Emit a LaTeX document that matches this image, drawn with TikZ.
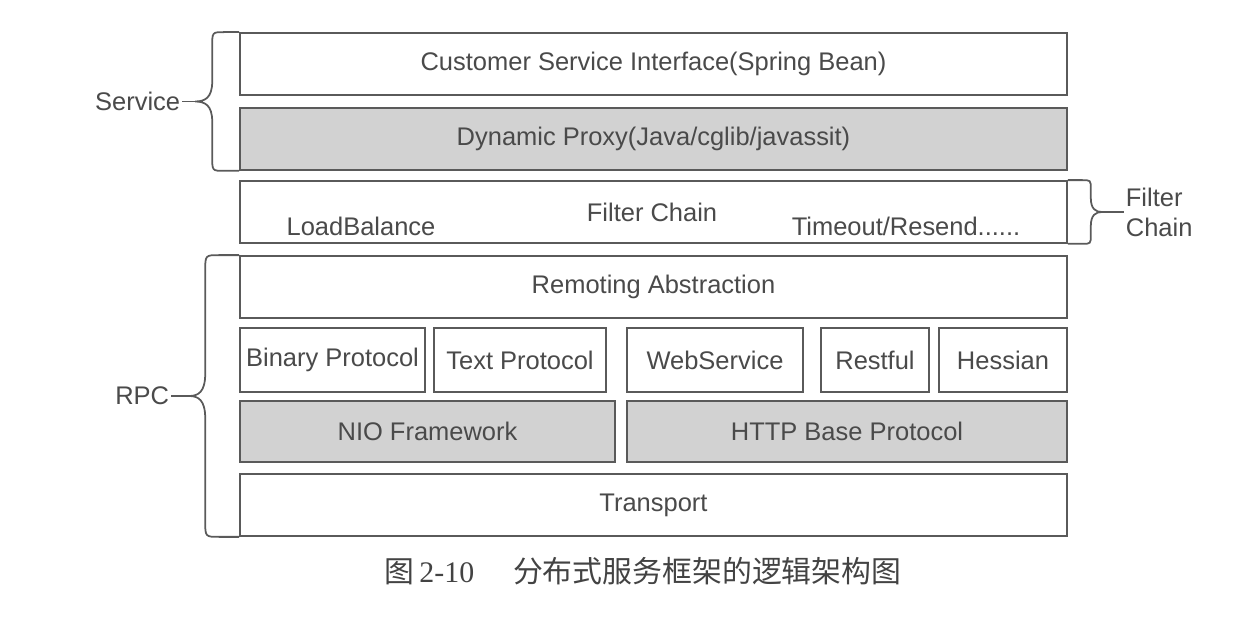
\documentclass[tikz,border=0pt]{standalone}
\usepackage{fontspec}
\setmainfont{Liberation Sans}
\newfontfamily\cjkfont{Noto Sans CJK SC}
\newfontfamily\capnumfont{Liberation Serif}
\usetikzlibrary{positioning,calc}
\definecolor{linegray}{HTML}{5A5A5A}
\definecolor{textgray}{HTML}{4A4A4A}
\definecolor{boxgray}{HTML}{D2D2D2}
\newcommand\lyrfont{\fontsize{14.5pt}{17pt}\selectfont}

\begin{document}
\begin{tikzpicture}[
    x=0.02cm, y=-0.02cm,
    layer/.style={draw=linegray, line width=1pt, fill=white, minimum height=1.24cm, inner sep=0pt, font=\lyrfont, text=textgray},
    dark/.style={layer, fill=boxgray},
    lbl/.style={font=\lyrfont, text=textgray, inner sep=1pt},
    brc/.style={draw=linegray, line width=1pt}
]
\useasboundingbox (0,0) rectangle (1257,624);

% service layers
\node[layer, minimum width=16.54cm] (csi) at (653.5,64) {Customer Service Interface(Spring Bean)};
\node[dark, minimum width=16.54cm] (proxy) at (653.5,139) {Dynamic Proxy(Java/cglib/javassit)};

% filter chain
\node[layer, minimum width=16.54cm] (filter) at (653.5,212) {};
\node[lbl] (fc) at (652,212) {Filter Chain};
\node[lbl] (lb) at (361,226) {LoadBalance};
\node[lbl] (tr) at (906,226) {Timeout/Resend......};

% rpc layers
\node[layer, minimum width=16.54cm] (remote) at (653.5,287) {Remoting Abstraction};
\node[layer, minimum width=3.70cm, minimum height=1.28cm] (bin) at (332.5,360) {Binary Protocol};
\node[layer, minimum width=3.44cm, minimum height=1.28cm] (txt) at (520,360) {Text Protocol};
\node[layer, minimum width=3.52cm, minimum height=1.28cm] (ws) at (715,360) {WebService};
\node[layer, minimum width=2.16cm, minimum height=1.28cm] (rest) at (875,360) {Restful};
\node[layer, minimum width=2.56cm, minimum height=1.28cm] (hes) at (1003,360) {Hessian};
\node[dark, minimum width=7.5cm, minimum height=1.22cm] (nio) at (427.5,431.5) {NIO Framework};
\node[dark, minimum width=8.8cm, minimum height=1.22cm] (http) at (847,431.5) {HTTP Base Protocol};
\node[layer, minimum width=16.54cm] (trans) at (653.5,505) {Transport};

% braces
\coordinate (svcmid) at ($(csi.north west)!0.5!(proxy.south west)$);
\coordinate (svctip) at ($(svcmid)+(-44,0)$);
\draw[brc] (csi.north west) -- ++(-15,0) .. controls ++(-12,0) .. ++(-12,14)
    -- ($(svcmid)+(-27,-20)$)
    .. controls ($(svcmid)+(-27,-4)$) and ($(svcmid)+(-34,0)$) .. (svctip)
    .. controls ($(svcmid)+(-34,0)$) and ($(svcmid)+(-27,4)$) .. ($(svcmid)+(-27,20)$)
    -- ($(proxy.south west)+(-27,-14)$) .. controls ($(proxy.south west)+(-27,0)$) .. ($(proxy.south west)+(-15,0)$)
    -- (proxy.south west);
\node[lbl, left=0.26cm of svctip] (svc) {Service};
\draw[brc] (svctip) -- (svc);

\coordinate (rpcmid) at ($(remote.north west)!0.5!(trans.south west)$);
\coordinate (rpctip) at ($(rpcmid)+(-50,0)$);
\draw[brc] (remote.north west) -- ++(-20,0) .. controls ++(-14,0) .. ++(-14,16)
    -- ($(rpcmid)+(-34,-22)$)
    .. controls ($(rpcmid)+(-34,-4)$) and ($(rpcmid)+(-41,0)$) .. (rpctip)
    .. controls ($(rpcmid)+(-41,0)$) and ($(rpcmid)+(-34,4)$) .. ($(rpcmid)+(-34,22)$)
    -- ($(trans.south west)+(-34,-16)$) .. controls ($(trans.south west)+(-34,0)$) .. ($(trans.south west)+(-20,0)$)
    -- (trans.south west);
\node[lbl, left=0.36cm of rpctip] (rpc) {RPC};
\draw[brc] (rpctip) -- (rpc);

\coordinate (fcmid) at ($(filter.north east)!0.5!(filter.south east)$);
\coordinate (fctip) at ($(fcmid)+(34,0)$);
\draw[brc] (filter.north east) -- ++(14,0) .. controls ++(9,0) .. ++(9,9)
    -- ($(fcmid)+(23,-14)$)
    .. controls ($(fcmid)+(23,-3)$) and ($(fcmid)+(28,0)$) .. (fctip)
    .. controls ($(fcmid)+(28,0)$) and ($(fcmid)+(23,3)$) .. ($(fcmid)+(23,14)$)
    -- ($(filter.south east)+(23,-9)$) .. controls ($(filter.south east)+(23,0)$) .. ($(filter.south east)+(14,0)$)
    -- (filter.south east);
\node[lbl, align=left, right=0.44cm of fctip] (fclbl) {Filter\\Chain};
\draw[brc] (fctip) -- (fclbl);

% caption
\node[text=textgray!90!black] (cap) at (643,571) {\cjkfont\fontsize{17pt}{19pt}\selectfont 图\,{\capnumfont 2-10}\hspace{1.3em}分布式服务框架的逻辑架构图};
\end{tikzpicture}
\end{document}
